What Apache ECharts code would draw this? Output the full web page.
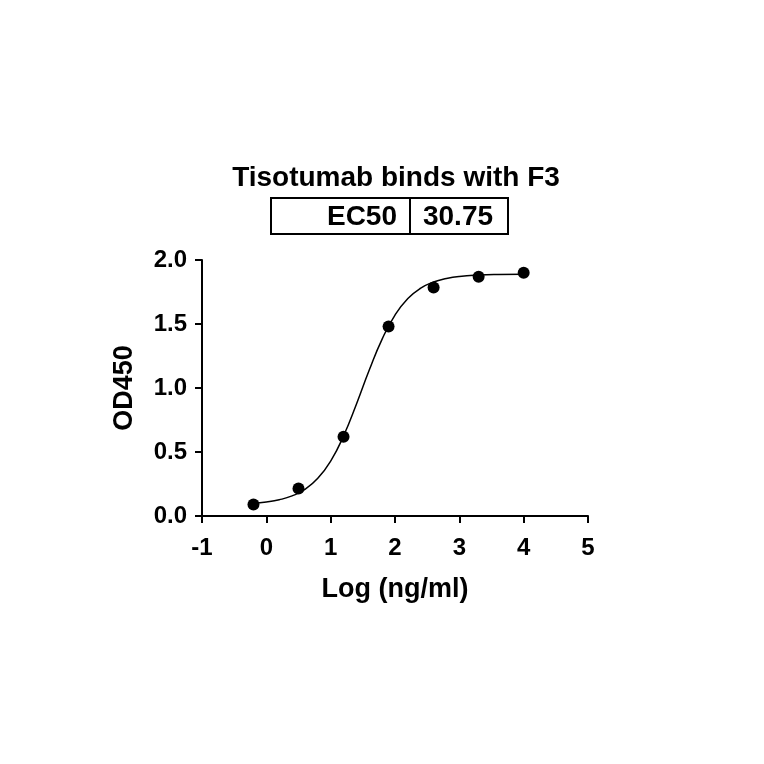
<!DOCTYPE html>
<html>
<head>
<meta charset="utf-8">
<script src="https://cdn.jsdelivr.net/npm/echarts@6/dist/echarts.min.js"></script>
<style>html,body{margin:0;padding:0;background:#fff;}#c{width:764px;height:764px;}</style>
</head>
<body>
<div id="c"></div>
<script>
const chartTitle = 'Tisotumab binds with F3';
const ec50Label = 'EC50';
const ec50Value = '30.75';
const xName = 'Log (ng/ml)';
const yName = 'OD450';
// measured points
const pointX = [-0.2, 0.5, 1.2, 1.9, 2.6, 3.3, 4.0];
const pointY = [0.09, 0.215, 0.62, 1.48, 1.785, 1.87, 1.90];
// fitted curve, values
const curveX = [-0.2, 0.0, 0.2, 0.4, 0.6, 0.8, 1.0, 1.2, 1.4, 1.6, 1.8, 2.0, 2.2, 2.4, 2.6, 2.8, 3.0, 3.3, 3.6, 4.0];
const curveY = [0.10, 0.11, 0.127, 0.157, 0.208, 0.294, 0.429, 0.625, 0.873, 1.14, 1.382, 1.57, 1.699, 1.78, 1.828, 1.855, 1.871, 1.882, 1.887, 1.889];

const chart = echarts.init(document.getElementById('c'), null, {renderer: 'canvas'});
const font = 'Liberation Sans, Arial, sans-serif';
chart.setOption({
  backgroundColor: '#fff',
  animation: false,
  grid: {left: 202, right: 176, top: 260, bottom: 248, containLabel: false},
  xAxis: {
    type: 'value', min: -1, max: 5, interval: 1,
    name: xName, nameLocation: 'middle', nameGap: 60,
    nameTextStyle: {fontFamily: font, fontWeight: 'bold', fontSize: 27, color: '#000'},
    axisLine: {onZero: false, lineStyle: {color: '#000', width: 2}},
    axisTick: {show: true, length: 7, lineStyle: {color: '#000', width: 2}},
    axisLabel: {fontFamily: font, fontWeight: 'bold', fontSize: 24, color: '#000', margin: 20},
    splitLine: {show: false}
  },
  yAxis: {
    type: 'value', min: 0, max: 2, interval: 0.5,
    name: yName, nameLocation: 'middle', nameGap: 64, nameRotate: 90,
    nameTextStyle: {fontFamily: font, fontWeight: 'bold', fontSize: 27, color: '#000'},
    axisLine: {show: true, onZero: false, lineStyle: {color: '#000', width: 2}},
    axisTick: {show: true, length: 7, lineStyle: {color: '#000', width: 2}},
    axisLabel: {fontFamily: font, fontWeight: 'bold', fontSize: 24, color: '#000', margin: 15,
      formatter: v => v.toFixed(1)},
    splitLine: {show: false}
  },
  graphic: [
    {type: 'text', x: 396, y: 178, style: {text: chartTitle, font: 'bold 28px ' + font, fill: '#000', align: 'center', verticalAlign: 'middle'}},
    {type: 'rect', shape: {x: 271, y: 198, width: 237, height: 36}, style: {fill: 'none', stroke: '#000', lineWidth: 2}},
    {type: 'line', shape: {x1: 410, y1: 198, x2: 410, y2: 234}, style: {stroke: '#000', lineWidth: 2}},
    {type: 'text', x: 397, y: 217, style: {text: ec50Label, font: 'bold 28px ' + font, fill: '#000', align: 'right', verticalAlign: 'middle'}},
    {type: 'text', x: 458, y: 217, style: {text: ec50Value, font: 'bold 28px ' + font, fill: '#000', align: 'center', verticalAlign: 'middle'}}
  ],
  series: [
    {type: 'line', data: curveX.map((x, i) => [x, curveY[i]]), smooth: true, showSymbol: false,
     lineStyle: {color: '#000', width: 1.5}, z: 2},
    {type: 'scatter', data: pointX.map((x, i) => [x, pointY[i]]), symbol: 'circle', symbolSize: 12,
     itemStyle: {color: '#000', opacity: 1}, z: 3}
  ]
});
</script>
</body>
</html>
